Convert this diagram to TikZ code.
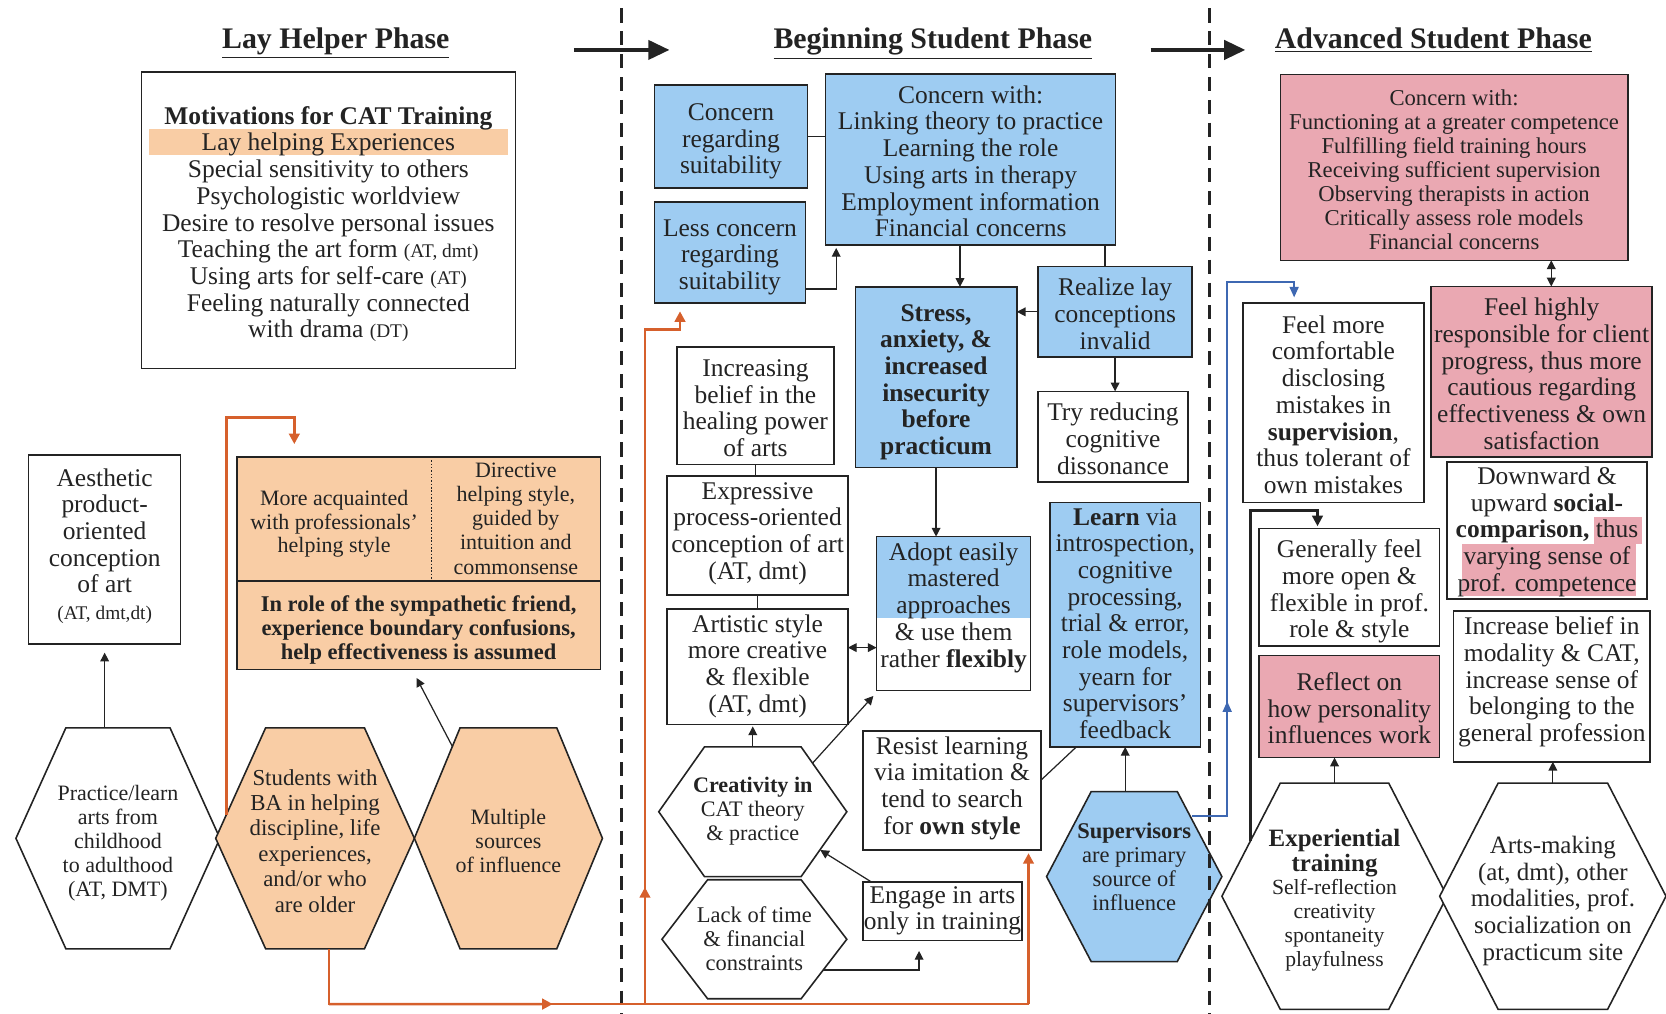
\documentclass[tikz,border=0pt]{standalone}
\usepackage{fontspec}
\setmainfont{Liberation Serif}
\usetikzlibrary{arrows.meta, positioning, calc, backgrounds}

\definecolor{skyfill}{RGB}{158,204,242}
\definecolor{rosefill}{RGB}{234,168,178}
\definecolor{peachfill}{RGB}{249,205,165}
\definecolor{rustline}{RGB}{214,96,44}
\definecolor{navyline}{RGB}{62,104,178}
\definecolor{inkgray}{RGB}{35,35,35}

\newcommand{\tagsz}{\fontsize{11}{12}\selectfont}
\newcommand{\subsz}{\fontsize{12.3}{13.6}\selectfont}
% centred stack of lines, nudged down a little
\newcommand{\lns}[2][6pt]{\raisebox{0pt}[\dimexpr\height+#1\relax][\depth]{\begin{tabular}{@{}c@{}}#2\end{tabular}}}

% hexagon outline behind a named node
\newcommand{\hexout}[3]{%
  \begin{pgfonlayer}{background}
    \draw[hexline, fill=#3] (#1.west) -- ($(#1.north west)+(#2,0)$) -- ($(#1.north east)+(-#2,0)$) -- (#1.east) -- ($(#1.south east)+(-#2,0)$) -- ($(#1.south west)+(#2,0)$) -- cycle;
  \end{pgfonlayer}}

\tikzset{
  span/.style n args={4}{at={({(#1+#3)/2},{(#2+#4)/2})}, minimum width={(#3-#1)*0.02125cm}, minimum height={(#4-#2)*0.02125cm}},
  box/.style={draw=inkgray, line width=0.9pt, inner sep=0pt, outer sep=0pt, text=inkgray, font=\fontsize{14.5}{15.2}\selectfont},
  skybox/.style={box, fill=skyfill},
  rosebox/.style={box, fill=rosefill},
  peachpart/.style={inner sep=0pt, outer sep=0pt, fill=peachfill, text=inkgray},
  hexnode/.style={inner sep=0pt, outer sep=0pt, text=inkgray},
  hexline/.style={draw=inkgray, line width=0.9pt},
  link/.style={draw=inkgray, line width=0.7pt},
  arr/.style={link, -{Triangle[length=5pt,width=5pt]}},
  dblarr/.style={link, {Triangle[length=5pt,width=5pt]}-{Triangle[length=5pt,width=5pt]}},
  thickarr/.style={draw=inkgray, line width=1.4pt, -{Triangle[length=6pt,width=6pt]}},
  rust/.style={draw=rustline, line width=1.5pt},
  rustarr/.style={rust, -{Triangle[length=6pt,width=6pt]}},
  navyarr/.style={draw=navyline, line width=1.2pt, -{Triangle[length=6pt,width=5pt]}},
  phase/.style={font=\fontsize{17}{20}\selectfont\bfseries, text=inkgray, anchor=base},
  phasearr/.style={draw=inkgray, line width=1.8pt, -{Triangle[length=12pt,width=11pt]}},
  divider/.style={draw=inkgray, line width=1.8pt, dash pattern=on 8pt off 5pt},
}

\begin{document}
\begin{tikzpicture}[x=0.02125cm, y=-0.02125cm]
\useasboundingbox (0,0) rectangle (1568,954);

% phases
\node[phase] (layphase) at (316,46) {\underline{Lay Helper Phase}};
\node[phase] (begphase) at (878,46) {\underline{Beginning Student Phase}};
\node[phase] (advphase) at (1349,46) {\underline{Advanced Student Phase}};
\coordinate (lay-out) at (540,47);
\coordinate (beg-in) at (630,47);
\coordinate (beg-out) at (1083,47);
\coordinate (adv-in) at (1172,47);
\draw[phasearr] (lay-out) -- (beg-in);
\draw[phasearr] (beg-out) -- (adv-in);
\draw[divider] (585,8) -- (585,954);
\draw[divider] (1138,8) -- (1138,954);

% lay helper phase
\node[box, span={133}{68}{485}{347}] (motiv) {\lns{\textbf{Motivations for CAT Training}\\Lay helping Experiences\\Special sensitivity to others\\Psychologistic worldview\\Desire to resolve personal issues\\Teaching the art form {\tagsz(AT, dmt)}\\Using arts for self-care {\tagsz(AT)}\\Feeling naturally connected\\with drama {\tagsz(DT)}}};
\begin{pgfonlayer}{background}
  \fill[peachfill] ($(motiv.north west)+(7,53)$) rectangle ($(motiv.north east)+(-7,78)$);
\end{pgfonlayer}

\node[box, span={27}{428}{170}{606}] (aesth) {\lns[-2pt]{Aesthetic\\product-\\oriented\\conception\\of art\\{\tagsz(AT, dmt,dt)}}};

\node[peachpart, span={223}{430}{406}{547}, font=\fontsize{12.5}{13.6}\selectfont] (acq) {\lns{More acquainted\\with professionals'\\helping style}};
\node[peachpart, span={406}{430}{565}{547}, font=\fontsize{12.5}{13.8}\selectfont] (direct) {\lns[2pt]{Directive\\helping style,\\guided by\\intuition and\\commonsense}};
\node[peachpart, span={223}{547}{565}{630}, font=\fontsize{12.8}{13.6}\selectfont\bfseries] (role) {\lns{In role of the sympathetic friend,\\experience boundary confusions,\\help effectiveness is assumed}};
\draw[hexline] (acq.north west) rectangle (role.south east);
\draw[hexline] (role.north west) -- (role.north east);
\draw[hexline, densely dotted] (acq.north east) -- (acq.south east);

\node[hexnode, span={15}{685}{207}{893}, font=\fontsize{12.5}{13.7}\selectfont] (practice) {\lns{Practice/learn\\arts from\\childhood\\to adulthood\\(AT, DMT)}};
\hexout{practice}{47}{white}
\node[hexnode, span={203}{685}{390}{893}, font=\fontsize{13}{14.5}\selectfont] (students) {\lns{Students with\\BA in helping\\discipline, life\\experiences,\\and/or who\\are older}};
\hexout{students}{47}{peachfill}
\node[hexnode, span={390}{685}{567}{893}, font=\fontsize{12.5}{13.7}\selectfont] (multi) {\lns{Multiple\\sources\\of influence}};
\hexout{multi}{43}{peachfill}

\draw[arr, shorten >=5pt] (aesth.south |- practice.north) -- (aesth.south);
\draw[arr] ($(multi.north west)+(36,18)$) -- ($(role.south west)+(169,8)$);
\draw[rustarr] ($(students.west)+(10,-22)$) |- ($(acq.north west)+(54,-37)$) -- ($(acq.north west)+(54,-12)$);

% beginning student phase
\node[skybox, span={616}{80}{760}{177}] (suit1) {\lns{Concern\\regarding\\suitability}};
\node[skybox, span={616}{190}{758}{285}] (suit2) {\lns{Less concern\\regarding\\suitability}};
\node[skybox, span={777}{70}{1050}{230}] (concern) {\lns{Concern with:\\Linking theory to practice\\Learning the role\\Using arts in therapy\\Employment information\\Financial concerns}};
\node[skybox, span={805}{270}{957}{440}, font=\fontsize{14.5}{15.2}\selectfont\bfseries] (stress) {\lns{Stress,\\anxiety, \&\\increased\\insecurity\\before\\practicum}};
\node[skybox, span={977}{255}{1122}{332}] (realize) {\lns{Realize lay\\conceptions\\invalid}};
\node[box, span={977}{370}{1118}{452}] (tryred) {\lns{Try reducing\\cognitive\\dissonance}};
\node[box, span={637}{332}{785}{432}] (belief) {\lns{Increasing\\belief in the\\healing power\\of arts}};
\node[box, span={628}{448}{798}{560}] (express) {\lns[-2pt]{Expressive\\process-oriented\\conception of art\\(AT, dmt)}};
\node[box, span={628}{573}{798}{682}] (artistic) {\lns[0pt]{Artistic style\\more creative\\\& flexible\\(AT, dmt)}};
\node[box, span={825}{505}{970}{650}] (adopt) {\lns[-6pt]{Adopt easily\\mastered\\approaches\\\& use them\\rather \textbf{flexibly}}};
\begin{pgfonlayer}{background}
  \fill[skyfill] (adopt.north west) rectangle ($(adopt.east)+(0,4.5)$);
\end{pgfonlayer}
\node[box, span={812}{688}{980}{800}] (resist) {\lns[-2pt]{Resist learning\\via imitation \&\\tend to search\\for \textbf{own style}}};
\node[skybox, span={988}{473}{1130}{703}] (learn) {\lns[2pt]{\textbf{Learn} via\\introspection,\\cognitive\\processing,\\trial \& error,\\role models,\\yearn for\\supervisors'\\feedback}};
\node[box, span={812}{830}{962}{885}] (engage) {\lns[0pt]{Engage in arts\\only in training}};
\node[hexnode, span={620}{703}{797}{825}, font=\fontsize{12.6}{13.8}\selectfont] (creat) {\lns[0pt]{\textbf{Creativity in}\\CAT theory\\\& practice}};
\hexout{creat}{43}{white}
\node[hexnode, span={623}{828}{797}{940}, font=\fontsize{12.8}{13.8}\selectfont] (lack) {\lns[3pt]{Lack of time\\\& financial\\constraints}};
\hexout{lack}{43}{white}
\node[hexnode, span={985}{745}{1150}{905}, font=\fontsize{12.8}{13.6}\selectfont] (superv) {\lns[-8pt]{\textbf{Supervisors}\\are primary\\source of\\influence}};
\hexout{superv}{42}{skyfill}

\draw[link] (suit1.east) -- (suit1.east -| concern.west);
\draw[arr] ($(suit2.south east)+(0,-13)$) -| ($(concern.south west)+(10,3)$);
\coordinate (con-out) at ($(concern.south)+(-10,0)$);
\draw[arr] (con-out) -- (con-out |- stress.north);
\draw[link] ($(concern.south east)+(-10,0)$) -- ($(realize.north west)+(63,0)$);
\draw[arr] (realize.west) -- (realize.west -| stress.east);
\draw[arr] (realize.south) -- (realize.south |- tryred.north);
\draw[arr] (stress.south) -- (stress.south |- adopt.north);
\draw[link] (belief.south) -- (belief.south |- express.north);
\draw[link] (express.south) -- (express.south |- artistic.north);
\coordinate (art-link) at ($(artistic.east)+(0,-18)$);
\draw[dblarr] (art-link) -- (art-link -| adopt.west);
\draw[arr, shorten >=1pt] (creat.north) -- (creat.north |- artistic.south);
\draw[arr] ($(creat.north east)+(-32,15)$) -- ($(adopt.south west)+(-3,5)$);
\draw[link] ($(resist.east)+(0,-10)$) -- ($(learn.south west)+(25,0)$);
\draw[arr] (superv.north -| learn.south) -- (learn.south);
\draw[arr] ($(engage.north west)+(8,0)$) -- ($(creat.south east)+(-25,-25)$);
\draw[arr] ($(lack.south east)+(-22,-27)$) -| ($(engage.south west)+(53,10)$);

% orange path from the lay helper phase
\coordinate (rust-sw) at ($(students.south)+(13,52)$);
\coordinate (rust-fork) at (607,945);
\coordinate (rust-se) at (968,945);
\draw[rust] ($(students.south)+(13,0)$) -- (rust-sw) -- (rust-se);
\draw[rustarr] (rust-sw) -- ($(rust-sw)!0.32!(rust-se)$);
\draw[rustarr] (rust-se) -- ($(resist.south east)+(-12,3)$);
\draw[rustarr] (rust-fork) |- ($(suit2.south west)+(24,25)$) -- ($(suit2.south west)+(24,8)$);
\draw[rustarr] (rust-fork) -- ++(0,-110);

% advanced student phase
\node[rosebox, span={1205}{70}{1532}{245}, font=\fontsize{12.9}{13.7}\selectfont] (concern2) {\lns{Concern with:\\Functioning at a greater competence\\Fulfilling field training hours\\Receiving sufficient supervision\\Observing therapists in action\\Critically assess role models\\Financial concerns}};
\node[rosebox, span={1347}{272}{1555}{428}] (resp) {\lns{Feel highly\\responsible for client\\progress, thus more\\cautious regarding\\effectiveness \& own\\satisfaction}};
\node[box, span={1170}{285}{1340}{473}] (comfort) {\lns{Feel more\\comfortable\\disclosing\\mistakes in\\\textbf{supervision},\\thus tolerant of\\own mistakes}};
\node[box, span={1185}{500}{1355}{605}] (general) {\lns{Generally feel\\more open \&\\flexible in prof.\\role \& style}};
\node[rosebox, span={1185}{617}{1355}{713}] (reflect) {\lns{Reflect on\\how personality\\influences work}};
\node[box, span={1362}{437}{1550}{562}] (social) {\lns[2pt]{Downward \&\\upward \textbf{social-}\\\textbf{comparison,} thus\\varying sense of\\prof. competence}};
\begin{pgfonlayer}{background}
  \fill[rosefill] ($(social.west)+(138,-12.5)$) rectangle ($(social.west)+(183,12.5)$);
  \fill[rosefill] ($(social.west)+(14,12.5)$) rectangle ($(social.west)+(178,61)$);
\end{pgfonlayer}
\node[box, span={1368}{575}{1553}{717}] (increase) {\lns[-4pt]{Increase belief in\\modality \& CAT,\\increase sense of\\belonging to the\\general profession}};
\node[hexnode, span={1150}{737}{1362}{950}, font=\subsz] (expt) {\lns{{\fontsize{14.2}{15}\selectfont\bfseries Experiential}\\{\fontsize{14.2}{15}\selectfont\bfseries training}\\Self-reflection\\creativity\\spontaneity\\playfulness}};
\hexout{expt}{55}{white}
\node[hexnode, span={1355}{737}{1568}{950}, font=\fontsize{14.2}{15.2}\selectfont] (arts) {\lns{Arts-making\\(at, dmt), other\\modalities, prof.\\socialization on\\practicum site}};
\hexout{arts}{55}{white}

\coordinate (adv-link) at ($(resp.north)+(9,0)$);
\draw[dblarr] (adv-link |- concern2.south) -- (adv-link);
\draw[thickarr] ($(expt.west)+(27,-52)$) |- ($(general.north west)+(55,-17)$) -- ($(general.north west)+(55,-2)$);
\draw[arr] (expt.north) -- (expt.north |- reflect.south);
\draw[arr] (arts.north) -- (arts.north |- increase.south);

% blue path from the supervisors
\coordinate (navy-col) at ($(comfort.north west)+(-15,0)$);
\draw[navyarr] ($(superv.east)+(-28,-57)$) -| ($(comfort.north west)+(-15,-20)$) -| ($(comfort.north west)+(48,-5)$);
\draw[navyarr] (navy-col |- superv.north) -- ++(0,-85);
\end{tikzpicture}
\end{document}
